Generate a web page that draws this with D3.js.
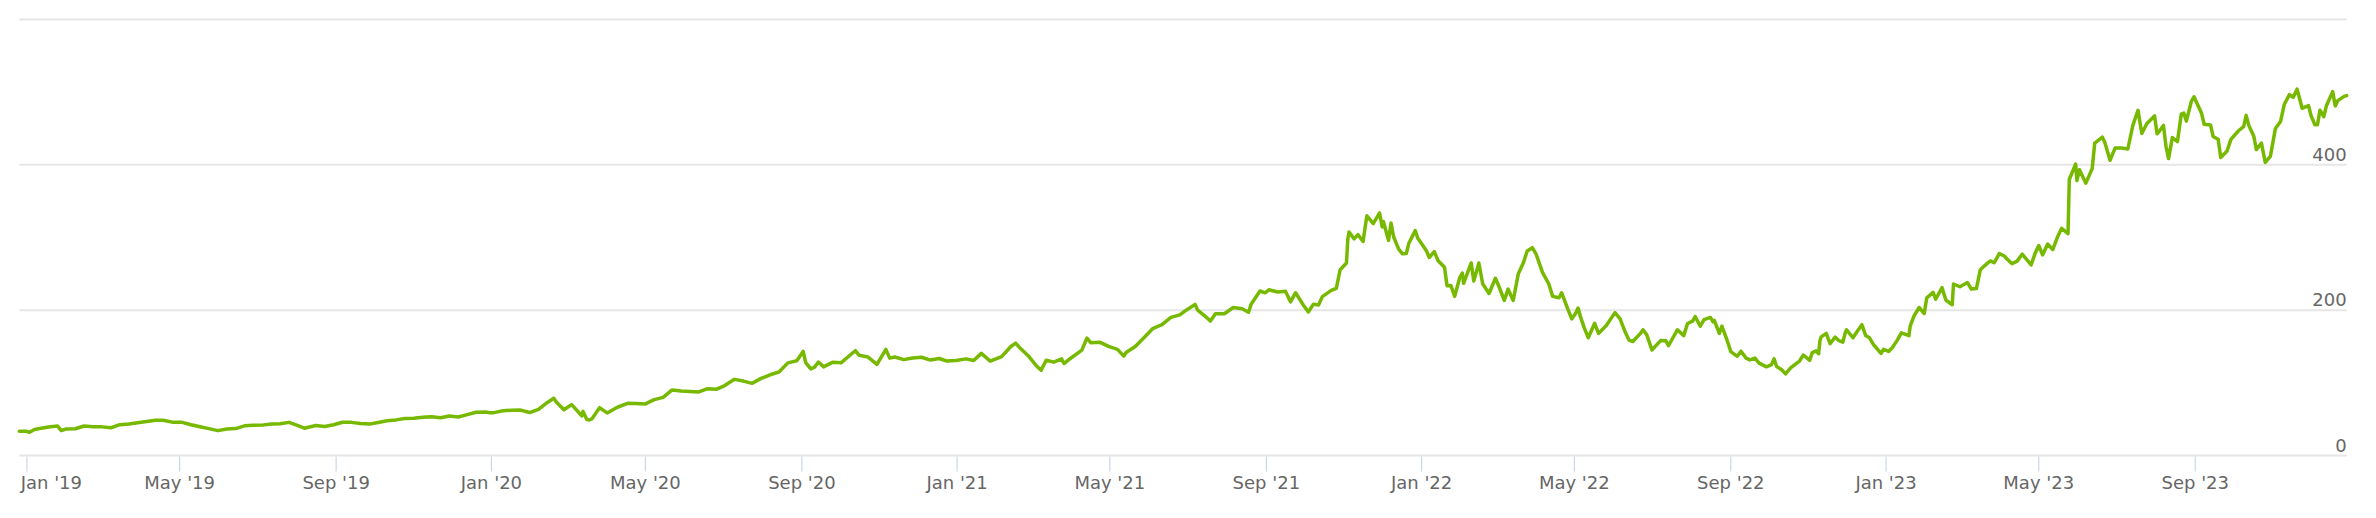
<!DOCTYPE html>
<html>
<head>
<meta charset="utf-8">
<script src="https://cdn.jsdelivr.net/npm/d3@7"></script>
<style>
  body { margin: 0; background: #fff; }
  text { font-family: "DejaVu Sans", Verdana, sans-serif; }
</style>
</head>
<body>
<script>
// closing prices, one array per year
var close2019 = [
  ["2018-12-26",33.4],["2018-12-28",33.3],["2018-12-31",33.4],
  ["2019-01-03",32.0],["2019-01-07",35.8],["2019-01-11",37.2],["2019-01-18",39.2],["2019-01-25",40.6],
  ["2019-01-28",34.4],["2019-02-01",36.6],["2019-02-08",36.8],["2019-02-15",40.6],["2019-02-22",39.6],
  ["2019-03-01",39.4],["2019-03-08",38.2],["2019-03-15",42.4],["2019-03-22",43.4],["2019-03-29",45.2],
  ["2019-04-05",46.9],["2019-04-12",48.6],["2019-04-18",48.4],["2019-04-26",45.6],["2019-05-03",45.6],
  ["2019-05-10",42.4],["2019-05-17",39.6],["2019-05-24",37.0],["2019-05-31",34.2],["2019-06-07",36.4],
  ["2019-06-14",37.0],["2019-06-21",40.8],["2019-06-28",41.6],["2019-07-05",41.8],["2019-07-12",43.2],
  ["2019-07-19",43.8],["2019-07-26",45.6],["2019-08-02",41.2],["2019-08-07",37.6],["2019-08-16",41.2],
  ["2019-08-23",39.8],["2019-08-30",42.4],["2019-09-06",45.8],["2019-09-13",45.6],["2019-09-20",44.0],
  ["2019-09-27",43.2],["2019-10-04",45.4],["2019-10-11",47.8],["2019-10-18",49.0],["2019-10-25",50.8],
  ["2019-11-01",51.3],["2019-11-08",52.5],["2019-11-15",53.3],["2019-11-22",52.0],["2019-11-29",54.3],
  ["2019-12-06",53.0],["2019-12-13",56.3],["2019-12-20",59.5],["2019-12-27",59.8],["2019-12-31",58.8]
];
var close2020 = [
  ["2020-01-03",59.0],["2020-01-10",61.5],["2020-01-17",62.3],["2020-01-24",62.5],["2020-01-31",59.1],
  ["2020-02-07",63.5],["2020-02-14",73.0],["2020-02-19",78.7],["2020-02-21",73.5],["2020-02-27",63.0],
  ["2020-03-04",70.0],["2020-03-09",60.5],["2020-03-12",54.6],["2020-03-13",60.7],["2020-03-16",49.4],
  ["2020-03-18",49.0],["2020-03-20",50.4],["2020-03-26",65.8],["2020-04-01",58.6],["2020-04-09",66.4],
  ["2020-04-17",71.8],["2020-04-24",71.5],["2020-05-01",71.0],["2020-05-08",76.9],["2020-05-15",80.0],
  ["2020-05-22",90.2],["2020-05-29",88.8],["2020-06-05",88.1],["2020-06-12",87.5],["2020-06-19",92.0],
  ["2020-06-26",91.3],["2020-07-02",95.9],["2020-07-10",104.8],["2020-07-17",102.4],["2020-07-24",99.3],
  ["2020-07-31",106.1],["2020-08-07",111.1],["2020-08-14",114.9],["2020-08-21",127.5],["2020-08-28",130.3],
  ["2020-09-02",143.2],["2020-09-04",127.7],["2020-09-08",119.1],["2020-09-11",121.6],["2020-09-14",128.6],
  ["2020-09-18",122.0],["2020-09-25",128.2],["2020-10-02",127.8],["2020-10-09",138.3],["2020-10-13",144.2],
  ["2020-10-16",137.9],["2020-10-23",135.5],["2020-10-30",125.4],["2020-11-06",146.0],["2020-11-09",134.0],
  ["2020-11-13",135.5],["2020-11-20",131.9],["2020-11-27",134.3],["2020-12-04",135.2],["2020-12-11",131.3],
  ["2020-12-18",133.5],["2020-12-24",129.9],["2020-12-31",130.6]
];
var close2021 = [
  ["2021-01-08",133.0],["2021-01-14",130.7],["2021-01-20",140.5],["2021-01-27",129.8],["2021-02-05",136.0],
  ["2021-02-12",149.6],["2021-02-16",154.6],["2021-02-19",148.7],["2021-02-26",137.0],["2021-03-04",124.0],
  ["2021-03-08",117.3],["2021-03-12",131.0],["2021-03-18",128.5],["2021-03-24",133.0],["2021-03-26",126.6],
  ["2021-03-31",133.5],["2021-04-09",145.0],["2021-04-13",161.6],["2021-04-16",155.2],["2021-04-23",156.0],
  ["2021-04-30",150.1],["2021-05-07",146.0],["2021-05-12",136.8],["2021-05-14",142.0],["2021-05-21",150.0],
  ["2021-05-28",162.4],["2021-06-04",175.0],["2021-06-11",180.0],["2021-06-18",190.0],["2021-06-25",193.5],
  ["2021-06-30",200.0],["2021-07-07",208.0],["2021-07-09",200.0],["2021-07-16",190.0],["2021-07-19",185.0],
  ["2021-07-23",195.1],["2021-07-30",195.0],["2021-08-06",203.6],["2021-08-13",202.0],["2021-08-18",197.0],
  ["2021-08-20",208.2],["2021-08-27",226.4],["2021-08-31",223.9],["2021-09-03",228.0],["2021-09-10",225.0],
  ["2021-09-16",226.0],["2021-09-20",211.5],["2021-09-24",224.0],["2021-09-30",207.2],["2021-10-04",197.5],
  ["2021-10-08",208.3],["2021-10-12",207.0],["2021-10-15",218.6],["2021-10-22",227.2],["2021-10-26",230.0],
  ["2021-10-29",255.7],["2021-11-03",265.0],["2021-11-04",297.5],["2021-11-05",307.7],["2021-11-09",298.0],
  ["2021-11-12",303.9],["2021-11-16",294.5],["2021-11-19",329.9],["2021-11-24",319.0],["2021-11-29",333.8],
  ["2021-12-01",314.4],["2021-12-02",322.0],["2021-12-06",296.0],["2021-12-08",320.0],["2021-12-10",301.0],
  ["2021-12-14",283.9],["2021-12-17",277.6],["2021-12-20",278.0],["2021-12-22",292.0],["2021-12-27",309.5],
  ["2021-12-29",299.0],["2021-12-31",294.1]
];
var close2022 = [
  ["2022-01-05",281.0],["2022-01-07",272.5],["2022-01-11",280.5],["2022-01-14",268.0],["2022-01-19",259.0],
  ["2022-01-21",233.7],["2022-01-24",234.0],["2022-01-27",219.0],["2022-01-31",244.9],["2022-02-02",251.0],
  ["2022-02-03",237.0],["2022-02-09",265.0],["2022-02-11",240.0],["2022-02-15",264.9],["2022-02-18",236.4],
  ["2022-02-23",223.0],["2022-02-28",243.9],["2022-03-02",236.0],["2022-03-07",213.5],["2022-03-10",229.0],
  ["2022-03-14",213.3],["2022-03-18",250.0],["2022-03-22",265.3],["2022-03-25",281.5],["2022-03-29",286.0],
  ["2022-04-01",277.0],["2022-04-06",252.0],["2022-04-11",236.0],["2022-04-14",219.0],["2022-04-19",217.0],
  ["2022-04-21",224.0],["2022-04-26",201.0],["2022-04-29",188.0],["2022-05-02",195.3],["2022-05-04",203.0],
  ["2022-05-06",190.0],["2022-05-09",175.0],["2022-05-12",162.0],["2022-05-17",182.0],["2022-05-20",168.0],
  ["2022-05-26",178.5],["2022-06-02",196.6],["2022-06-06",188.0],["2022-06-10",169.8],["2022-06-13",158.8],
  ["2022-06-16",156.8],["2022-06-22",168.0],["2022-06-24",173.0],["2022-06-27",166.0],["2022-07-01",145.2],
  ["2022-07-08",158.4],["2022-07-12",158.0],["2022-07-14",151.0],["2022-07-21",173.0],["2022-07-26",165.0],
  ["2022-07-29",181.6],["2022-08-02",185.0],["2022-08-04",191.3],["2022-08-08",177.9],["2022-08-11",187.0],
  ["2022-08-16",190.0],["2022-08-18",184.0],["2022-08-19",186.0],["2022-08-23",168.0],["2022-08-25",178.0],
  ["2022-08-29",159.0],["2022-09-01",143.0],["2022-09-06",136.5],["2022-09-09",143.5],["2022-09-13",134.0],
  ["2022-09-16",131.5],["2022-09-20",134.0],["2022-09-23",127.5],["2022-09-29",122.0],["2022-10-03",125.0],
  ["2022-10-05",133.0],["2022-10-07",122.5],["2022-10-11",118.0],["2022-10-14",112.3],["2022-10-18",120.5],
  ["2022-10-25",130.0],["2022-10-28",138.3],["2022-11-02",131.0],["2022-11-04",141.6],["2022-11-07",144.0],
  ["2022-11-09",140.0],["2022-11-10",157.5],["2022-11-11",163.3],["2022-11-15",168.0],["2022-11-18",154.0],
  ["2022-11-22",163.0],["2022-11-25",158.0],["2022-11-28",156.0],["2022-11-30",169.2],["2022-12-01",173.0],
  ["2022-12-06",162.0],["2022-12-09",170.0],["2022-12-13",180.0],["2022-12-16",165.0],["2022-12-19",162.0],
  ["2022-12-22",153.0],["2022-12-28",140.4],["2022-12-30",146.1]
];
var close2023 = [
  ["2023-01-03",143.2],["2023-01-06",148.6],["2023-01-10",159.1],["2023-01-13",168.7],["2023-01-19",165.0],
  ["2023-01-20",178.4],["2023-01-23",192.1],["2023-01-27",203.7],["2023-01-31",195.4],["2023-02-02",217.0],
  ["2023-02-07",224.5],["2023-02-09",215.0],["2023-02-14",231.0],["2023-02-17",213.9],["2023-02-22",207.5],
  ["2023-02-23",236.0],["2023-02-28",232.2],["2023-03-06",238.0],["2023-03-09",229.0],["2023-03-13",229.7],
  ["2023-03-16",255.0],["2023-03-17",257.3],["2023-03-22",265.0],["2023-03-24",267.8],["2023-03-27",265.3],
  ["2023-03-31",277.8],["2023-04-04",274.5],["2023-04-06",270.4],["2023-04-10",264.0],["2023-04-14",267.5],
  ["2023-04-18",277.0],["2023-04-25",262.4],["2023-04-28",277.5],["2023-05-01",289.0],["2023-05-04",276.0],
  ["2023-05-08",291.0],["2023-05-12",283.4],["2023-05-16",301.8],["2023-05-19",312.6],["2023-05-24",305.4],
  ["2023-05-25",379.8],["2023-05-30",401.1],["2023-05-31",378.3],["2023-06-02",393.3],["2023-06-07",374.8],
  ["2023-06-12",394.8],["2023-06-14",430.0],["2023-06-20",438.1],["2023-06-22",430.3],["2023-06-26",406.3],
  ["2023-06-30",423.0],["2023-07-05",423.1],["2023-07-10",421.8],["2023-07-14",454.7],["2023-07-18",474.9],
  ["2023-07-21",443.1],["2023-07-25",456.8],["2023-07-31",467.3],["2023-08-02",442.7],["2023-08-04",446.8],
  ["2023-08-07",454.2],["2023-08-09",425.5],["2023-08-11",408.6],["2023-08-14",437.5],["2023-08-18",432.0],
  ["2023-08-21",469.7],["2023-08-23",471.2],["2023-08-25",460.2],["2023-08-29",487.8],["2023-08-31",493.6],
  ["2023-09-06",470.6],["2023-09-08",455.7],["2023-09-13",454.9],["2023-09-15",439.0],["2023-09-19",435.2],
  ["2023-09-21",410.2],["2023-09-26",419.1],["2023-09-29",435.0],["2023-10-05",446.9],["2023-10-09",452.7],
  ["2023-10-11",468.1],["2023-10-13",454.6],["2023-10-17",439.4],["2023-10-19",421.0],["2023-10-23",429.8],
  ["2023-10-26",403.3],["2023-10-30",411.6],["2023-11-03",450.1],["2023-11-07",459.6],["2023-11-10",483.4],
  ["2023-11-14",496.6],["2023-11-17",493.0],["2023-11-20",504.1],["2023-11-24",477.8],["2023-11-29",481.4],
  ["2023-12-01",467.7],["2023-12-04",455.1],["2023-12-06",455.0],["2023-12-08",475.1],["2023-12-11",466.3],
  ["2023-12-13",480.9],["2023-12-15",488.9],["2023-12-18",500.8],["2023-12-20",481.1],["2023-12-22",488.3],
  ["2023-12-27",494.2],["2023-12-29",495.2]
];
var xTicks = ["2019-01-01","2019-05-01","2019-09-01","2020-01-01","2020-05-01","2020-09-01",
              "2021-01-01","2021-05-01","2021-09-01","2022-01-01","2022-05-01","2022-09-01",
              "2023-01-01","2023-05-01","2023-09-01"];
var yGrid = [0,200,400,600];
var yLabels = [0,200,400];

var W = 2376, H = 518;
var plotL = 19.3, plotR = 2346.7, plotT = 19.5, plotB = 455.5;
var parse = d3.timeParse("%Y-%m-%d");
var fmt = d3.timeFormat("%b '%y");

var data = [].concat(close2019, close2020, close2021, close2022, close2023)
  .map(function (d) { return {date: parse(d[0]), v: d[1]}; });

var x = d3.scaleTime()
  .domain([data[0].date, data[data.length - 1].date])
  .range([plotL, plotR]);
var y = d3.scaleLinear().domain([0, 600]).range([plotB, plotT]);

var svg = d3.select("body").append("svg")
  .attr("width", W)
  .attr("height", H);
svg.append("rect").attr("width", W).attr("height", H).attr("fill", "#fff");

//grid
svg.selectAll("line.grid")
  .data(yGrid)
  .enter().append("line")
  .attr("class", "grid")
  .attr("x1", plotL).attr("x2", plotR)
  .attr("y1", function (d) { return y(d); })
  .attr("y2", function (d) { return y(d); })
  .attr("stroke", "#e6e6e6")
  .attr("stroke-width", 2);

svg.selectAll("text.ylab")
  .data(yLabels)
  .enter().append("text")
  .attr("class", "ylab")
  .attr("x", plotR)
  .attr("y", function (d) { return y(d) - 4; })
  .attr("text-anchor", "end")
  .style("font-size", "18px")
  .attr("fill", "#666666")
  .text(function (d) { return d; });

//x axis ticks + labels
var tickDates = xTicks.map(parse);
svg.selectAll("line.tick")
  .data(tickDates)
  .enter().append("line")
  .attr("class", "tick")
  .attr("x1", function (d) { return x(d); })
  .attr("x2", function (d) { return x(d); })
  .attr("y1", plotB + 1)
  .attr("y2", plotB + 16)
  .attr("stroke", "#ccd6eb")
  .attr("stroke-width", 1.2);

svg.selectAll("text.xlab")
  .data(tickDates)
  .enter().append("text")
  .attr("class", "xlab")
  .attr("x", function (d) { return x(d); })
  .attr("y", 489)
  .attr("text-anchor", "middle")
  .style("font-size", "18px")
  .attr("fill", "#666666")
  .text(function (d) { return fmt(d); })
  .each(function (d) {
    // keep first label inside the plot, like the original
    var w = this.getComputedTextLength();
    if (x(d) - w / 2 < plotL + 1) {
      d3.select(this).attr("text-anchor", "start").attr("x", plotL + 1.4);
    }
  });

//price line
var line = d3.line()
  .x(function (d) { return x(d.date); })
  .y(function (d) { return y(d.v); });

svg.append("path")
  .datum(data)
  .attr("d", line)
  .attr("fill", "none")
  .attr("stroke", "#76b900")
  .attr("stroke-width", 3.5)
  .attr("stroke-linejoin", "round")
  .attr("stroke-linecap", "round");
</script>
</body>
</html>
